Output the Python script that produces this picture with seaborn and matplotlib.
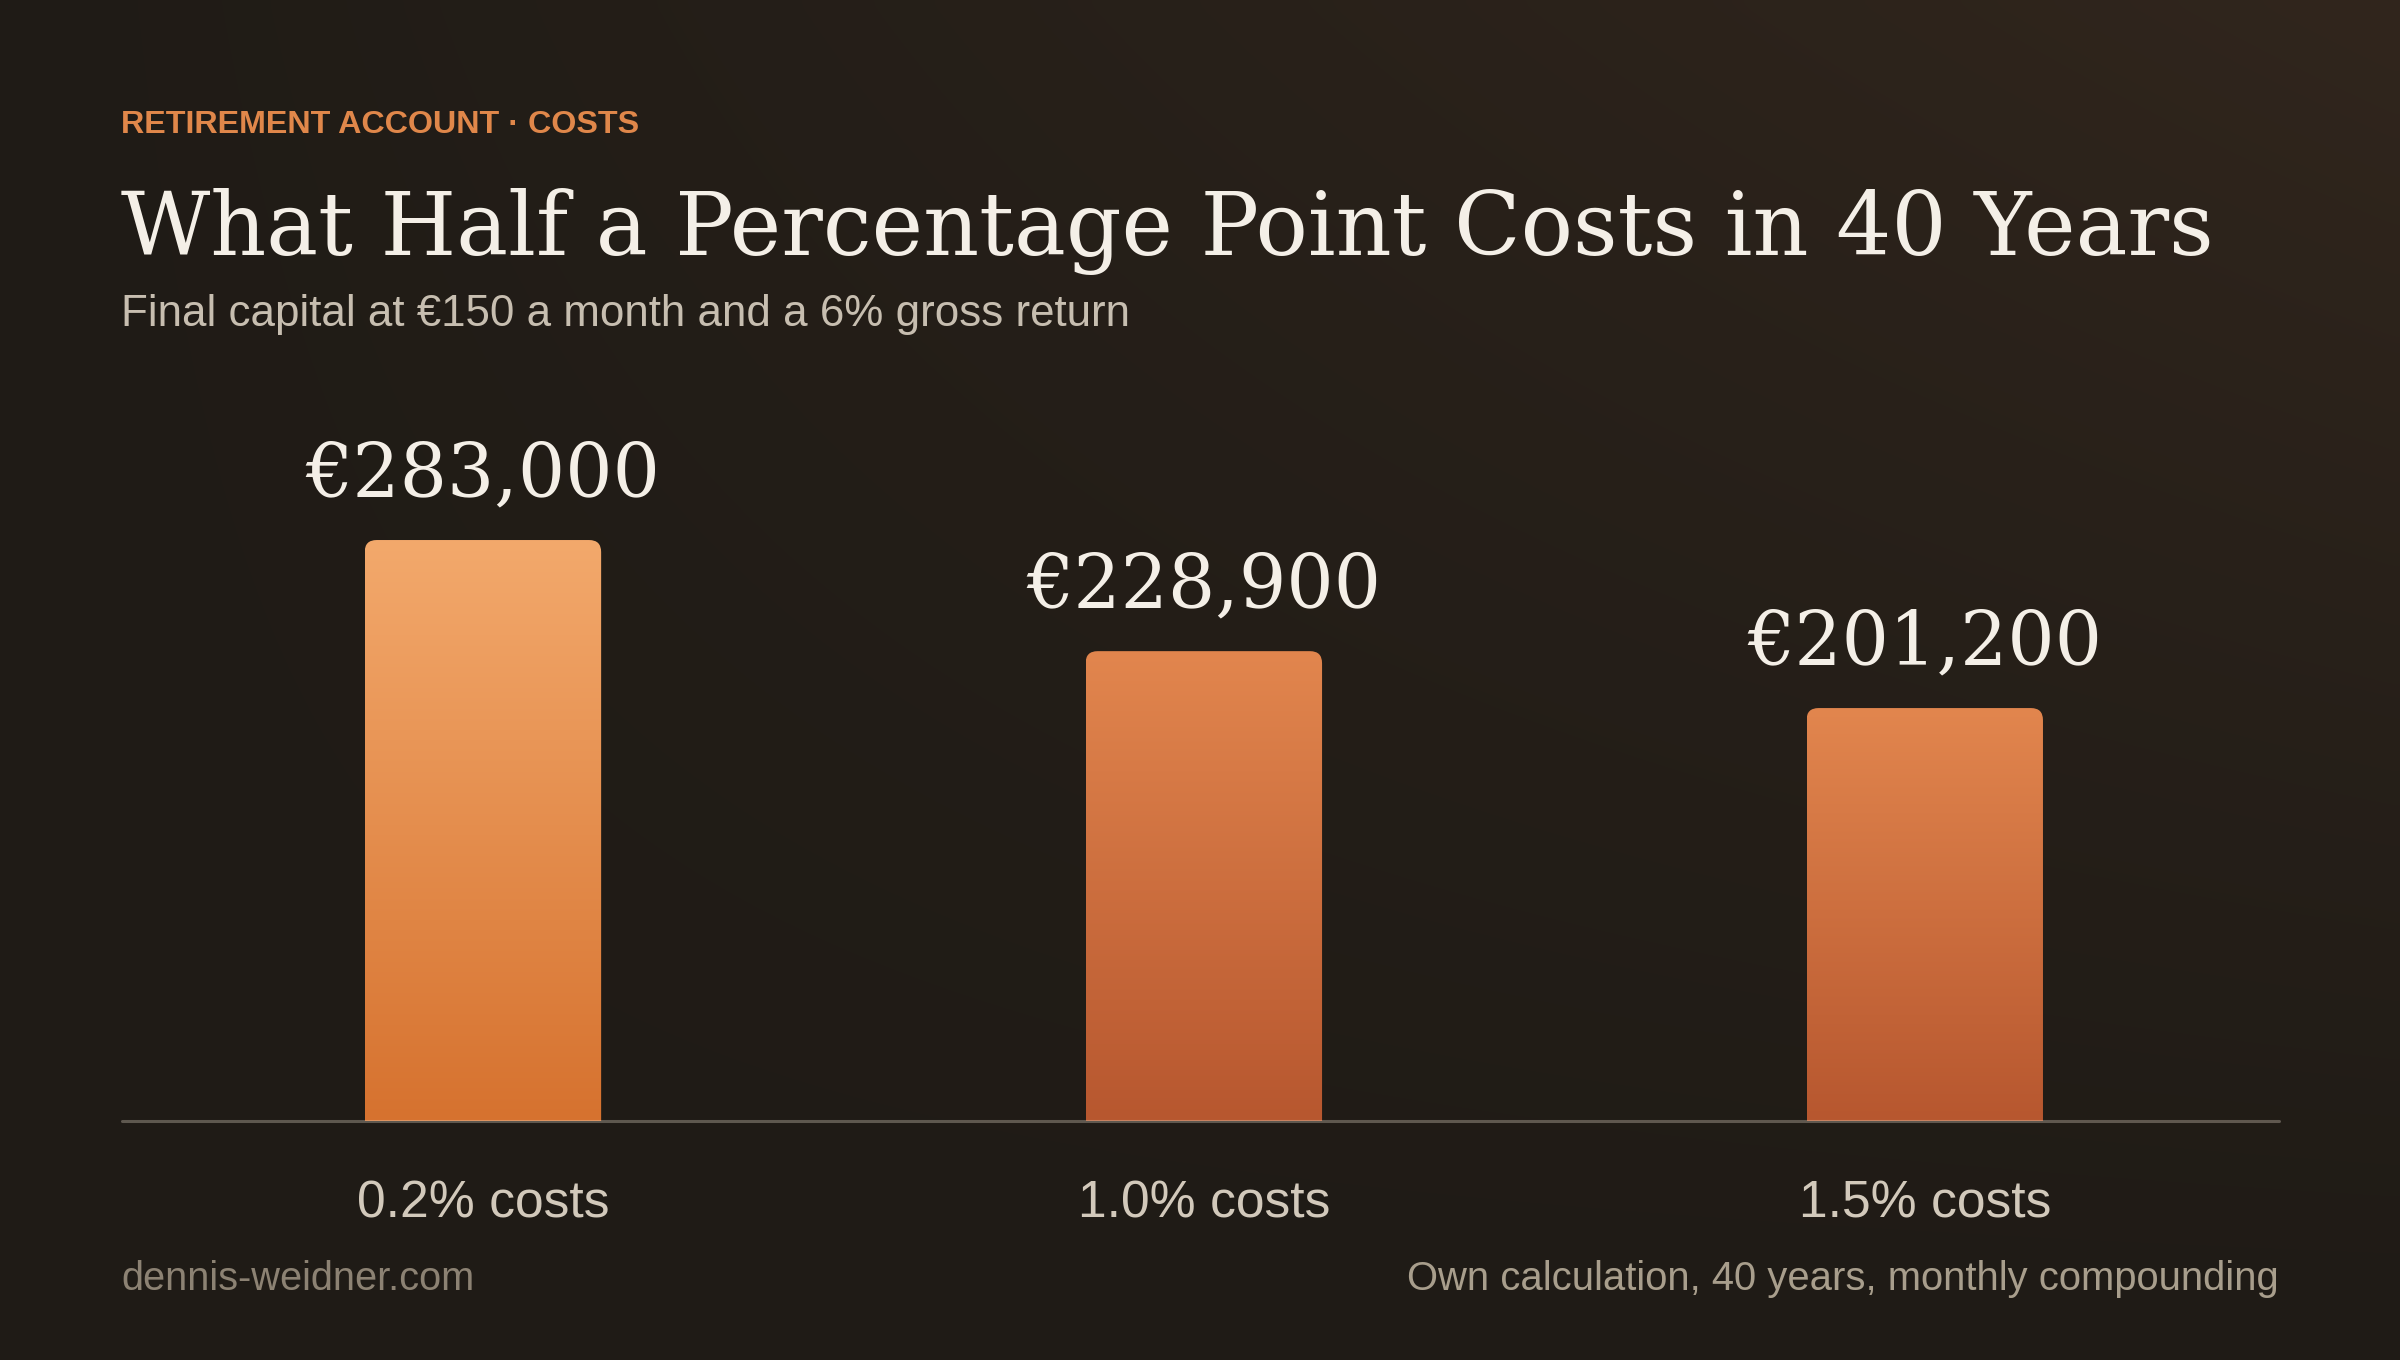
import numpy as np
import pandas as pd
import matplotlib
matplotlib.use("Agg")
import matplotlib.pyplot as plt
import seaborn as sns
from matplotlib.patches import FancyBboxPatch
from matplotlib.colors import LinearSegmentedColormap

# ---------------- data ----------------
categories = ["0.2% costs", "1.0% costs", "1.5% costs"]
final_capital = [283000, 228900, 201200]
value_labels = ["€283,000", "€228,900", "€201,200"]

eyebrow = "RETIREMENT ACCOUNT · COSTS"
title = "What Half a Percentage Point Costs in 40 Years"
subtitle = "Final capital at €150 a month and a 6% gross return"
footer_left = "dennis-weidner.com"
footer_right = "Own calculation, 40 years, monthly compounding"

# ---------------- style ----------------
bar_top_colors = ["#F3A96C", "#E2864E", "#E2864E"]
bar_bottom_colors = ["#D6722F", "#B7572F", "#B7572F"]
BG_LO = np.array([31, 27, 22]) / 255.0
BG_HI = np.array([49, 38, 29]) / 255.0

sns.set_theme(style="white")
plt.rcParams['font.family'] = ['Liberation Sans', 'DejaVu Sans']
SERIF = ['DejaVu Serif']

W, H, DPI = 12, 6.8, 200
fig = plt.figure(figsize=(W, H), dpi=DPI)
fig.patch.set_facecolor("#201b16")
SX = 2400 / 1568.0  # reference measured in 1568-wide space


def fx(x):
    return x / 1568.0


def fy(y):
    return 1 - y / 889.0


# background gradient
bg = fig.add_axes([0, 0, 1, 1], zorder=-10)
gx = np.linspace(0, 1, 240)[None, :]
gy = np.linspace(0, 1, 136)[:, None]
t = np.clip(0.65 * gx * (gy ** 1.2) + 0.35 * gx * gy, 0, 1)
t = t / t.max()
img = BG_LO[None, None, :] + (BG_HI - BG_LO)[None, None, :] * t[:, :, None]
bg.imshow(img, origin="lower", extent=[0, 1, 0, 1], aspect="auto", interpolation="bicubic")
bg.set_axis_off()

renderer = fig.canvas.get_renderer()


def fit_size(text, target_px, family, weight="normal", ref=20):
    tt = fig.text(0, 0, text, fontsize=ref, family=family, weight=weight)
    w = tt.get_window_extent(renderer=renderer).width
    tt.remove()
    return ref * target_px / w


# ---------------- texts ----------------
fig.text(fx(79), fy(87), eyebrow, fontsize=11.6, weight="bold", color="#E0874A",
         ha="left", va="baseline")
fig.text(fx(79), fy(167), title, fontsize=fit_size(title, 1365 * SX, SERIF),
         family=SERIF, color="#F4EFE7", ha="left", va="baseline")
fig.text(fx(79), fy(213), subtitle, fontsize=fit_size(subtitle, 658 * SX, ['Liberation Sans']),
         color="#C7BEB0", ha="left", va="baseline")
fig.text(fx(79), fy(843), footer_left, fontsize=fit_size(footer_left, 231 * SX, ['Liberation Sans']),
         color="#8C8273", ha="left", va="baseline")
fig.text(fx(1489), fy(843), footer_right, fontsize=fit_size(footer_right, 569 * SX, ['Liberation Sans']),
         color="#A89E8C", ha="right", va="baseline")

# ---------------- bars ----------------
ax_left, ax_right, ax_bottom, ax_top = fx(80), fx(1493), fy(733), fy(280)
line_end = (1489 - 80) / (1493 - 80)
ax = fig.add_axes([ax_left, ax_bottom, ax_right - ax_left, ax_top - ax_bottom])
ax.patch.set_alpha(0)

df = pd.DataFrame({"category": categories, "value": final_capital})
sns.barplot(data=df, x="category", y="value", ax=ax, width=0.328, color="#E0874A",
            saturation=1, errorbar=None)
ax.set_xlim(-0.5, 2.5)
ymax = final_capital[0] * (733 - 280) / (733 - 353)
ax.set_ylim(0, ymax)

ax_w_px = (ax_right - ax_left) * W * DPI
ax_h_px = (ax_top - ax_bottom) * H * DPI
radius_px = 12
rx = radius_px / (ax_w_px / 3.0)
ry = radius_px / (ax_h_px / ymax)

for i, p in enumerate(ax.patches):
    x0, w, h = p.get_x(), p.get_width(), p.get_height()
    p.set_facecolor((0, 0, 0, 0))
    p.set_edgecolor((0, 0, 0, 0))
    cmap = LinearSegmentedColormap.from_list(f"g{i}", [bar_bottom_colors[i], bar_top_colors[i]])
    clip = FancyBboxPatch((x0, -ry * 2), w, h + ry * 2,
                          boxstyle=f"round,pad=0,rounding_size={rx}",
                          mutation_aspect=ry / rx, transform=ax.transData,
                          facecolor="none", edgecolor="none")
    ax.add_patch(clip)
    im = ax.imshow(np.linspace(0, 1, 256).reshape(-1, 1), extent=[x0, x0 + w, 0, h],
                   origin="lower", cmap=cmap, aspect="auto", zorder=2, interpolation="bilinear")
    im.set_clip_path(clip)

ax.set_xlim(-0.5, 2.5)
ax.set_ylim(0, ymax)

val_size = fit_size(value_labels[0], 232 * SX, SERIF)
ax.bar_label(ax.containers[0], labels=value_labels, padding=10, fontsize=val_size,
             family=SERIF, color="#F4EFE7")

# axes styling
for s in ["left", "right", "top", "bottom"]:
    ax.spines[s].set_visible(False)
ax.axhline(0, xmin=0, xmax=line_end, color=(0.95, 0.90, 0.84, 0.30), lw=1.1,
           zorder=5, clip_on=False)
ax.set_yticks([])
ax.set_xlabel("")
ax.set_ylabel("")
cat_size = fit_size(categories[0], 165 * SX, ['Liberation Sans'])
ax.tick_params(axis="x", length=0, pad=21, labelsize=cat_size, labelcolor="#D2C9BB")

fig.savefig("out.png", dpi=DPI, facecolor=fig.get_facecolor())
